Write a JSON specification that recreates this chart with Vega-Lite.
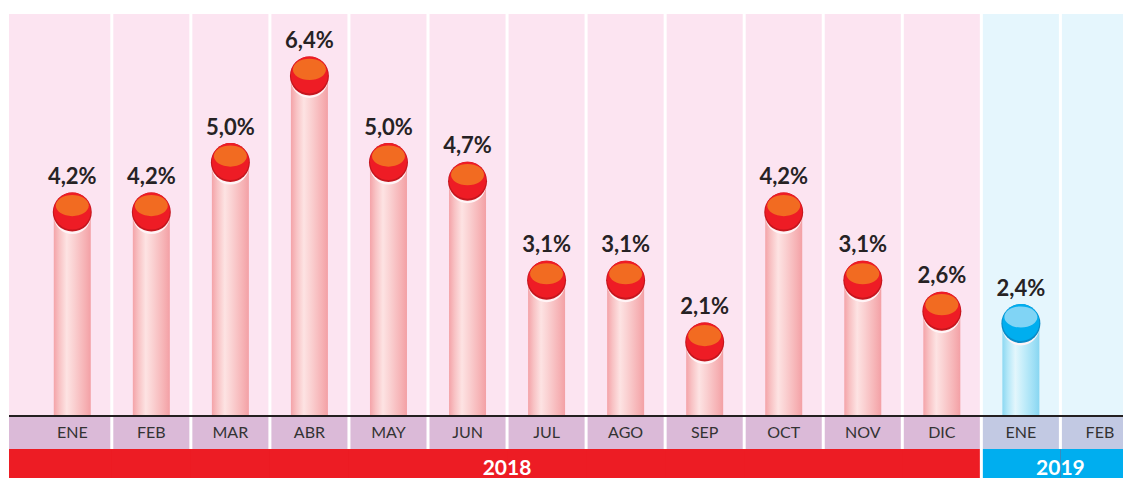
{
  "$schema": "https://vega.github.io/schema/vega-lite/v6.json",
  "padding": {"left": 8, "top": 14, "right": 0, "bottom": 0},
  "bounds": "flush",
  "spacing": 0,
  "background": "white",
  "config": {
    "view": {"stroke": null},
    "locale": {"number": {"decimal": ",", "thousands": ".", "grouping": [3], "currency": ["", " €"]}},
    "font": "Lato"
  },
  "datasets": {
    "months": [
      {"id": "2018-01", "mes": "ENE", "year": 2018, "v": 0.042},
      {"id": "2018-02", "mes": "FEB", "year": 2018, "v": 0.042},
      {"id": "2018-03", "mes": "MAR", "year": 2018, "v": 0.050},
      {"id": "2018-04", "mes": "ABR", "year": 2018, "v": 0.064},
      {"id": "2018-05", "mes": "MAY", "year": 2018, "v": 0.050},
      {"id": "2018-06", "mes": "JUN", "year": 2018, "v": 0.047},
      {"id": "2018-07", "mes": "JUL", "year": 2018, "v": 0.031},
      {"id": "2018-08", "mes": "AGO", "year": 2018, "v": 0.031},
      {"id": "2018-09", "mes": "SEP", "year": 2018, "v": 0.021},
      {"id": "2018-10", "mes": "OCT", "year": 2018, "v": 0.042},
      {"id": "2018-11", "mes": "NOV", "year": 2018, "v": 0.031},
      {"id": "2018-12", "mes": "DIC", "year": 2018, "v": 0.026},
      {"id": "2019-01", "mes": "ENE", "year": 2019, "v": 0.024},
      {"id": "2019-02", "mes": "FEB", "year": 2019, "v": null}
    ],
    "years": [
      {"year": "2018", "mid": "2018-07"},
      {"year": "2019", "mid": "2019-02"}
    ]
  },
  "vconcat": [
    {
      "width": 1115,
      "height": 403,
      "view": {"fill": "#FCE4F1", "stroke": null},
      "data": {"name": "months"},
      "layer": [
        {
          "mark": {"type": "rect", "clip": true},
          "encoding": {
            "x": {"field": "id", "type": "nominal", "axis": null, "scale": {"type": "band", "domain": ["2018-01","2018-02","2018-03","2018-04","2018-05","2018-06","2018-07","2018-08","2018-09","2018-10","2018-11","2018-12","2019-01","2019-02"], "range": [23.75, 1130.45], "paddingInner": 0, "paddingOuter": 0}},
            "fill": {"condition": {"test": "datum.year == 2019", "value": "#E5F6FD"}, "value": "#FCE4F1"}
          }
        },
        {
          "transform": [{"filter": "datum.id != '2018-01'"}],
          "mark": {"type": "rule", "color": "white", "strokeWidth": 3, "clip": true},
          "encoding": {
            "x": {"field": "id", "type": "nominal", "bandPosition": 0, "axis": null}
          }
        },
        {
          "transform": [{"filter": "datum.year == 2018"}],
          "mark": {"type": "bar", "width": 37, "clip": true, "color": {"gradient": "linear", "x1": 0, "x2": 1, "y1": 0, "y2": 0, "stops": [
            {"offset": 0, "color": "#F4A3A8"},
            {"offset": 0.15, "color": "#F8C2C4"},
            {"offset": 0.35, "color": "#FDE3E3"},
            {"offset": 0.55, "color": "#FAD0D1"},
            {"offset": 0.85, "color": "#F6B1B4"},
            {"offset": 1, "color": "#F3A0A5"}]}},
          "encoding": {
            "x": {"field": "id", "type": "nominal", "axis": null},
            "y": {"field": "v", "type": "quantitative", "axis": null, "scale": {"domain": [0.0089, 0.074], "zero": false, "nice": false}}
          }
        },
        {
          "transform": [{"filter": "datum.year == 2019"}],
          "mark": {"type": "bar", "width": 37, "clip": true, "color": {"gradient": "linear", "x1": 0, "x2": 1, "y1": 0, "y2": 0, "stops": [
            {"offset": 0, "color": "#8CD8F2"},
            {"offset": 0.15, "color": "#B5E8F8"},
            {"offset": 0.35, "color": "#E3F6FC"},
            {"offset": 0.55, "color": "#C6EEFA"},
            {"offset": 0.85, "color": "#9EDFF5"},
            {"offset": 1, "color": "#88D6F1"}]}},
          "encoding": {
            "x": {"field": "id", "type": "nominal", "axis": null},
            "y": {"field": "v", "type": "quantitative", "axis": null}
          }
        },
        {
          "mark": {"type": "point", "shape": "circle", "filled": true, "size": 1369, "yOffset": 3.5, "opacity": 1, "strokeWidth": 0},
          "encoding": {
            "x": {"field": "id", "type": "nominal", "axis": null},
            "y": {"field": "v", "type": "quantitative", "axis": null},
            "fill": {"value": "#FFF4F6"}
          }
        },
        {
          "mark": {"type": "point", "shape": "circle", "filled": true, "size": 1521, "opacity": 1, "strokeWidth": 0},
          "encoding": {
            "x": {"field": "id", "type": "nominal", "axis": null},
            "y": {"field": "v", "type": "quantitative", "axis": null},
            "fill": {"condition": {"test": "datum.year == 2019", "value": "#0A8BC6"}, "value": "#C5161E"}
          }
        },
        {
          "mark": {"type": "point", "shape": "circle", "filled": true, "size": 1369, "yOffset": -1, "opacity": 1, "strokeWidth": 0},
          "encoding": {
            "x": {"field": "id", "type": "nominal", "axis": null},
            "y": {"field": "v", "type": "quantitative", "axis": null},
            "fill": {"condition": {"test": "datum.year == 2019", "value": "#00AEEF"}, "value": "#EE1C25"}
          }
        },
        {
          "mark": {"type": "point", "shape": "M -1 0 A 1 0.64 0 1 1 1 0 A 1 0.64 0 1 1 -1 0 Z", "filled": true, "size": 1089, "yOffset": -6.5, "opacity": 1, "strokeWidth": 0},
          "encoding": {
            "x": {"field": "id", "type": "nominal", "axis": null},
            "y": {"field": "v", "type": "quantitative", "axis": null},
            "fill": {"condition": {"test": "datum.year == 2019", "value": "#80D4F5"}, "value": "#F26B21"}
          }
        },
        {
          "mark": {"type": "text", "font": "Lato", "fontWeight": "bold", "fontSize": 22, "color": "#262224", "baseline": "alphabetic", "dy": -28},
          "encoding": {
            "x": {"field": "id", "type": "nominal", "axis": null},
            "y": {"field": "v", "type": "quantitative", "axis": null},
            "text": {"field": "v", "type": "quantitative", "format": ".1%"}
          }
        },
        {
          "mark": {"type": "rule", "color": "#231F20", "strokeWidth": 2, "yOffset": -1},
          "encoding": {
            "y": {"datum": 0.0089, "type": "quantitative", "axis": null}
          }
        }
      ]
    },
    {
      "width": 1115,
      "height": 32,
      "view": {"fill": "#DBBAD8", "stroke": null},
      "data": {"name": "months"},
      "layer": [
        {
          "mark": {"type": "rect", "clip": true},
          "encoding": {
            "x": {"field": "id", "type": "nominal", "axis": null, "scale": {"type": "band", "domain": ["2018-01","2018-02","2018-03","2018-04","2018-05","2018-06","2018-07","2018-08","2018-09","2018-10","2018-11","2018-12","2019-01","2019-02"], "range": [23.75, 1130.45], "paddingInner": 0, "paddingOuter": 0}},
            "fill": {"condition": {"test": "datum.year == 2019", "value": "#C2C9E3"}, "value": "#DBBAD8"}
          }
        },
        {
          "transform": [{"filter": "datum.id != '2018-01'"}],
          "mark": {"type": "rule", "color": "white", "strokeWidth": 3, "clip": true},
          "encoding": {
            "x": {"field": "id", "type": "nominal", "bandPosition": 0, "axis": null}
          }
        },
        {
          "mark": {"type": "text", "font": "Lato", "fontSize": 16, "color": "#333333", "baseline": "alphabetic", "dy": 4.5},
          "encoding": {
            "x": {"field": "id", "type": "nominal", "axis": null},
            "text": {"field": "mes", "type": "nominal"}
          }
        }
      ]
    },
    {
      "width": 1115,
      "height": 29,
      "view": {"fill": "#ED1C24", "stroke": null},
      "layer": [
        {
          "data": {"name": "months"},
          "mark": {"type": "rect", "clip": true},
          "encoding": {
            "x": {"field": "id", "type": "nominal", "axis": null, "scale": {"type": "band", "domain": ["2018-01","2018-02","2018-03","2018-04","2018-05","2018-06","2018-07","2018-08","2018-09","2018-10","2018-11","2018-12","2019-01","2019-02"], "range": [23.75, 1130.45], "paddingInner": 0, "paddingOuter": 0}},
            "fill": {"condition": {"test": "datum.year == 2019", "value": "#00AEEF"}, "value": "#ED1C24"}
          }
        },
        {
          "data": {"name": "months"},
          "transform": [{"filter": "datum.id == '2019-01'"}],
          "mark": {"type": "rule", "color": "white", "strokeWidth": 3, "clip": true},
          "encoding": {
            "x": {"field": "id", "type": "nominal", "bandPosition": 0, "axis": null}
          }
        },
        {
          "data": {"name": "years"},
          "mark": {"type": "text", "font": "Lato", "fontWeight": "bold", "fontSize": 21, "color": "white", "baseline": "alphabetic", "dy": 11.5},
          "encoding": {
            "x": {"field": "mid", "type": "nominal", "bandPosition": 0, "axis": null},
            "text": {"field": "year", "type": "nominal"}
          }
        }
      ]
    }
  ]
}
